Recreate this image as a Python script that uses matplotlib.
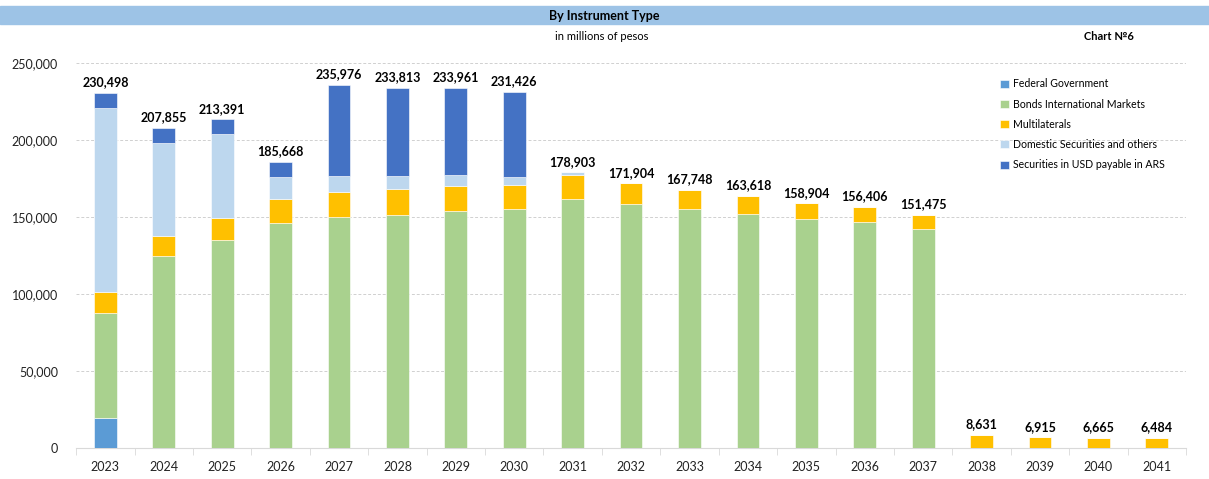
import matplotlib
matplotlib.use("Agg")
import matplotlib.pyplot as plt
from matplotlib.patches import Rectangle
from matplotlib.ticker import FuncFormatter
import numpy as np

plt.rcParams["font.family"] = ["Lato", "DejaVu Sans"]

# data (millions of pesos)
years = ["2023", "2024", "2025", "2026", "2027", "2028", "2029", "2030", "2031", "2032",
         "2033", "2034", "2035", "2036", "2037", "2038", "2039", "2040", "2041"]
federal = [19800, 0, 0, 0, 0, 0, 0, 0, 0, 0, 0, 0, 0, 0, 0, 0, 0, 0, 0]
bonds_intl = [67600, 124700, 135100, 146100, 150200, 151100, 154100, 155000, 161500, 158600,
              155400, 151900, 148500, 146800, 142000, 0, 0, 0, 0]
multilaterals = [14100, 13200, 14300, 15600, 16200, 17300, 16200, 15800, 15900, 13304,
                 12348, 11718, 10404, 9606, 9475, 8631, 6915, 6665, 6484]
domestic = [119100, 60400, 54500, 14100, 10200, 8200, 6800, 5000, 1503, 0,
            0, 0, 0, 0, 0, 0, 0, 0, 0]
usd_in_ars = [9898, 9555, 9491, 9868, 59376, 57213, 56861, 55626, 0, 0,
              0, 0, 0, 0, 0, 0, 0, 0, 0]
totals = [230498, 207855, 213391, 185668, 235976, 233813, 233961, 231426, 178903, 171904,
          167748, 163618, 158904, 156406, 151475, 8631, 6915, 6665, 6484]

series = [
    ("Federal Government", federal, "#5B9BD5"),
    ("Bonds International Markets", bonds_intl, "#A9D18E"),
    ("Multilaterals", multilaterals, "#FFC000"),
    ("Domestic Securities and others", domestic, "#BDD7EE"),
    ("Securities in USD payable in ARS", usd_in_ars, "#4472C4"),
]

fig = plt.figure(figsize=(12.09, 4.79), dpi=100)
ax = fig.add_axes([0.063, 0.0647, 0.918, 0.8038])

x = np.arange(len(years))
bottom = np.zeros(len(years))
for name, vals, color in series:
    vals = np.array(vals, dtype=float)
    ax.bar(x, vals, width=0.39, bottom=bottom, color=color, label=name,
           edgecolor="white", linewidth=0.4, zorder=3)
    bottom += vals

# total labels
for xi, t in zip(x, totals):
    ax.text(xi, t + 3000, f"{t:,}", ha="center", va="bottom",
            fontsize=9, fontweight="bold", color="black")

ax.set_xlim(-0.5, len(years) - 0.5)
ax.set_ylim(0, 250000)
ax.set_yticks(np.arange(0, 250001, 50000))
ax.yaxis.set_major_formatter(FuncFormatter(lambda v, p: f"{int(v):,}"))
ax.grid(axis="y", color="#D0D0D0", linestyle=(0, (3, 2)), linewidth=0.7, zorder=0)

ax.set_xticks(x)
ax.set_xticklabels(years)
ax.set_xticks(np.arange(-0.5, len(years), 1), minor=True)
ax.tick_params(axis="x", which="major", length=0, labelsize=9, pad=9, colors="#222222")
ax.tick_params(axis="x", which="minor", length=5, color="#D9D9D9")
ax.tick_params(axis="y", length=0, labelsize=9, pad=13, colors="#222222")

for s in ["top", "right", "left"]:
    ax.spines[s].set_visible(False)
ax.spines["bottom"].set_color("#D9D9D9")

leg = ax.legend(loc="upper left", bbox_to_anchor=(0.824, 0.985), frameon=False,
                fontsize=7.6, handlelength=0.8, handleheight=0.8,
                handletextpad=0.4, labelspacing=0.88)

# header band and titles
fig.patches.append(Rectangle((0, 1 - 24 / 479), 1, 18 / 479,
                             transform=fig.transFigure, color="#9DC3E6", zorder=0))
fig.text(0.5, 1 - 15.5 / 479, "By Instrument Type", ha="center", va="center",
         fontsize=9, fontweight="bold")
fig.text(0.498, 1 - 36 / 479, "in millions of pesos", ha="center", va="center", fontsize=8)
fig.text(0.917, 1 - 36 / 479, "Chart №6", ha="center", va="center",
         fontsize=8, fontweight="bold")

fig.savefig("out.png", dpi=100)
